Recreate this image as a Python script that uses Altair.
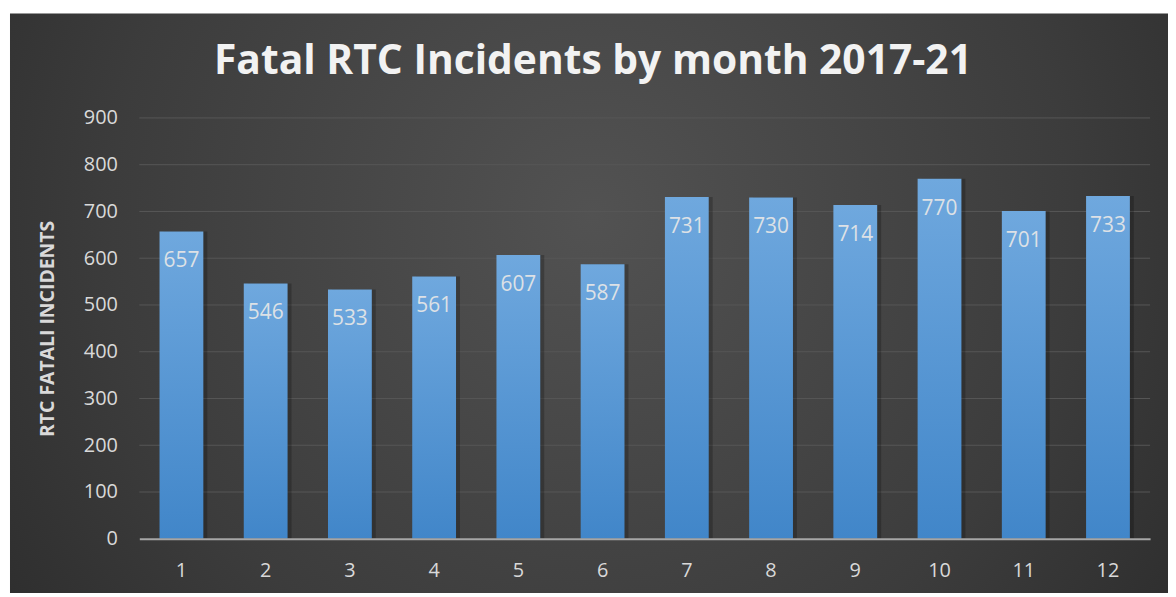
import altair as alt
import pandas as pd

months = [1, 2, 3, 4, 5, 6, 7, 8, 9, 10, 11, 12]
incidents = [657, 546, 533, 561, 607, 587, 731, 730, 714, 770, 701, 733]
y_ticks = [0, 100, 200, 300, 400, 500, 600, 700, 800, 900]
title_text = ["Fatal RTC Incidents by month 2017-21"]

df = pd.DataFrame({"month": months, "incidents": incidents})
grid_df = pd.DataFrame({"incidents": y_ticks[1:]})

W, H = 1016, 423
FONT = "Open Sans"
LBL = "#d9d9d9"

bg = alt.Chart(pd.DataFrame({"a": [0]})).mark_rect(
    color=alt.RadialGradient(
        gradient="radial",
        stops=[alt.GradientStop(color="#525252", offset=0),
               alt.GradientStop(color="#3c3c3c", offset=0.55),
               alt.GradientStop(color="#242424", offset=1)],
        x1=0.5, y1=0.42, r1=0, x2=0.5, y2=0.42, r2=0.75,
    ),
    clip=False,
).encode(x=alt.value(-130), x2=alt.value(1040), y=alt.value(-105), y2=alt.value(490))

yscale = alt.Scale(domain=[0, 900])
yaxis = alt.Axis(values=y_ticks, domain=False, ticks=False, grid=False,
                 labelColor=LBL, labelFont=FONT, labelFontSize=20,
                 labelPadding=22, titleColor=LBL, titleFont=FONT,
                 titleFontSize=19.5, titleFontWeight="bold",
                 titlePadding=26, zindex=1)
yenc = alt.Y("incidents:Q", title="RTC FATALI INCIDENTS", scale=yscale, axis=yaxis)

grid = alt.Chart(grid_df).mark_rule(color="#575757", strokeWidth=1).encode(
    y=yenc, x=alt.value(0), x2=alt.value(W))

xenc = alt.X("month:O", title=None,
             scale=alt.Scale(paddingInner=0.48, paddingOuter=0.24),
             axis=alt.Axis(labelAngle=0, ticks=False, domainColor="#a6a6a6",
                           domainWidth=2, labelColor=LBL, labelFont=FONT,
                           labelFontSize=20, labelPadding=22, grid=False, zindex=1))

base = alt.Chart(df)

shadow = base.mark_bar(color="#000000", opacity=0.22, xOffset=4, x2Offset=4).encode(
    x=xenc, y=yenc)

bars = base.mark_bar(
    color=alt.LinearGradient(
        gradient="linear",
        stops=[alt.GradientStop(color="#6fa8de", offset=0),
               alt.GradientStop(color="#4186c9", offset=1)],
        x1=0, y1=0, x2=0, y2=1,
    )
).encode(x=xenc, y=yenc)

labels = base.mark_text(baseline="alphabetic", dy=36, font=FONT, fontSize=21,
                        color="#dde1e6").encode(
    x=xenc, y=yenc, text="incidents:Q")

title = alt.Chart(pd.DataFrame({"t": title_text})).mark_text(
    font=FONT, fontSize=41, fontWeight="bold", color="#f2f2f2",
    align="center", baseline="alphabetic",
).encode(text="t:N", x=alt.value(456), y=alt.value(-44))

chart = alt.layer(bg, grid, shadow, bars, labels, title).properties(
    width=W, height=H,
    autosize=alt.AutoSizeParams(type="none"),
    padding={"left": 132, "top": 109, "right": 18, "bottom": 53},
    background="white",
).configure_view(stroke=None)

chart.save("out.html", embed_options={"renderer": "svg", "actions": False})
